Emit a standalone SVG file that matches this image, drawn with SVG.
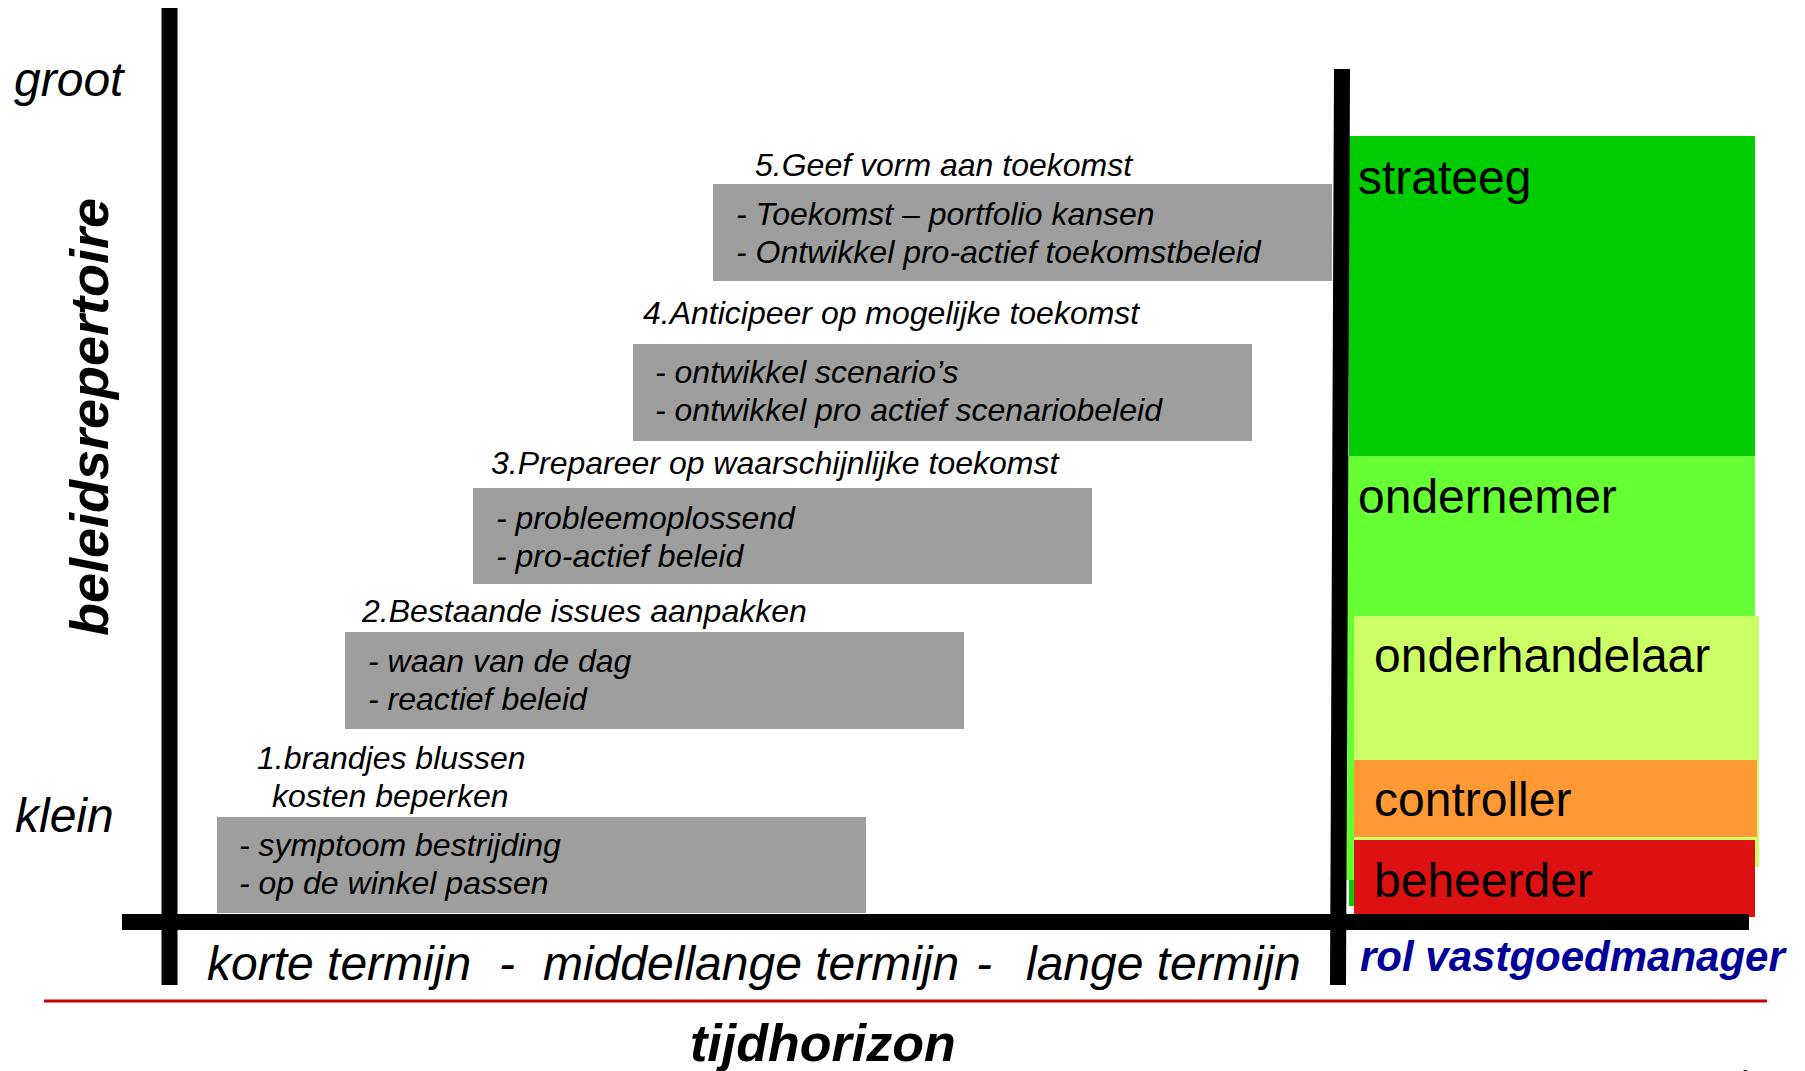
<svg xmlns="http://www.w3.org/2000/svg" width="1805" height="1071" viewBox="0 0 1805 1071">
<style>
.it{font-family:"Liberation Sans",Arial,sans-serif;font-style:italic;fill:#000}
.t32{font-size:32px}
.t48{font-size:48px}
.role{font-family:"Liberation Sans",Arial,sans-serif;font-size:48px;fill:#000}
.box{fill:#9e9e9e}
.axis{stroke:#000;stroke-width:16;fill:none}
</style>
<rect width="1805" height="1071" fill="#fff"/>

<g id="roles">
  <rect id="strateeg-bg" x="1349" y="136" width="406" height="770" fill="#00cc00"/>
  <rect x="1346" y="456" width="409" height="424" fill="#66ff33"/>
  <rect x="1354" y="616" width="405" height="251" fill="#ccff66"/>
  <rect x="1354" y="760" width="403" height="77" fill="#ff9933"/>
  <rect x="1354" y="840" width="401" height="77" fill="#dd1111"/>
</g>
<g id="role-strateeg"><text class="role" x="1358" y="194">strateeg</text></g>
<g id="role-ondernemer"><text class="role" x="1358" y="513">ondernemer</text></g>
<g id="role-onderhandelaar"><text class="role" x="1374" y="672">onderhandelaar</text></g>
<g id="role-controller"><text class="role" x="1374" y="816">controller</text></g>
<g id="role-beheerder"><text class="role" x="1374" y="897">beheerder</text></g>

<g id="connectors">
  <line class="axis" x1="169.5" y1="8" x2="169.5" y2="985"/>
  <line class="axis" x1="122" y1="922" x2="1749" y2="922"/>
  <line class="axis" x1="1342" y1="69" x2="1338" y2="985"/>
  <line x1="44" y1="1001" x2="1767" y2="1001" stroke="#c40000" stroke-width="3"/>
</g>

<g id="step5">
  <text class="it t32" x="755" y="176">5.Geef vorm aan toekomst</text>
  <rect class="box" x="713" y="184" width="619" height="97"/>
  <text class="it t32" x="736" y="225">- Toekomst – portfolio kansen</text>
  <text class="it t32" x="736" y="263">- Ontwikkel pro-actief toekomstbeleid</text>
</g>
<g id="step4">
  <text class="it t32" x="643" y="324">4.Anticipeer op mogelijke toekomst</text>
  <rect class="box" x="633" y="344" width="619" height="97"/>
  <text class="it t32" x="655" y="383">- ontwikkel scenario’s</text>
  <text class="it t32" x="655" y="421">- ontwikkel pro actief scenariobeleid</text>
</g>
<g id="step3">
  <text class="it t32" x="491" y="474">3.Prepareer op waarschijnlijke toekomst</text>
  <rect class="box" x="473" y="488" width="619" height="96"/>
  <text class="it t32" x="496" y="529">- probleemoplossend</text>
  <text class="it t32" x="496" y="567">- pro-actief beleid</text>
</g>
<g id="step2">
  <text class="it t32" x="362" y="622">2.Bestaande issues aanpakken</text>
  <rect class="box" x="345" y="632" width="619" height="97"/>
  <text class="it t32" x="368" y="672">- waan van de dag</text>
  <text class="it t32" x="368" y="710">- reactief beleid</text>
</g>
<g id="step1">
  <text class="it t32" x="257" y="769">1.brandjes blussen</text>
  <text class="it t32" x="272" y="807">kosten beperken</text>
  <rect class="box" x="217" y="817" width="649" height="96"/>
  <text class="it t32" x="239" y="856">- symptoom bestrijding</text>
  <text class="it t32" x="239" y="894">- op de winkel passen</text>
</g>

<g id="axis-labels">
  <text class="it t48" x="14" y="96">groot</text>
  <text class="it t48" x="15" y="832">klein</text>
  <text transform="translate(108,417) rotate(-90)" text-anchor="middle" font-family="Liberation Sans, Arial, sans-serif" font-style="italic" font-weight="bold" font-size="54">beleidsrepertoire</text>
  <text class="it t48" x="207" y="980">korte termijn</text>
  <text class="it t48" x="499" y="980">-</text>
  <text class="it t48" x="543" y="980">middellange termijn</text>
  <text class="it t48" x="976" y="980">-</text>
  <text class="it t48" x="1026" y="980">lange termijn</text>
  <text x="1360" y="971" font-family="Liberation Sans, Arial, sans-serif" font-style="italic" font-weight="bold" font-size="42" fill="#000099">rol vastgoedmanager</text>
  <text x="690" y="1061" font-family="Liberation Sans, Arial, sans-serif" font-style="italic" font-weight="bold" font-size="52">tijdhorizon</text>
  <text class="it" x="1735" y="1089" font-size="28">1</text>
</g>
</svg>
